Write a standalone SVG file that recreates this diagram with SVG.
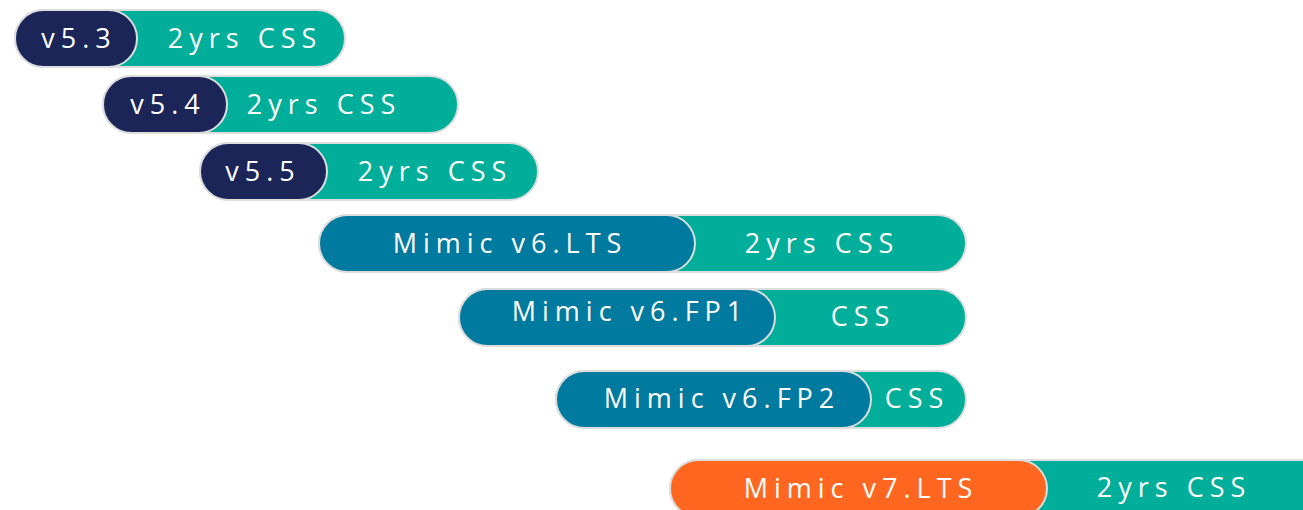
<svg xmlns="http://www.w3.org/2000/svg" width="1303" height="510" viewBox="0 0 1303 510">
<style>
.bg{fill:#fff}
.css{fill:#00AE9A;stroke:#DDDDDD;stroke-width:2}
.old{fill:#1B2558;stroke:#DDDDDD;stroke-width:2}
.v6{fill:#007A9E;stroke:#DDDDDD;stroke-width:2}
.v7{fill:#FF6720;stroke:#DDDDDD;stroke-width:2}
text{font-family:"Open Sans","DejaVu Sans",sans-serif;font-size:27px;fill:#fff;letter-spacing:6px;text-anchor:middle}
</style>
<rect class="bg" width="1303" height="510"/>
<g id="v53">
<rect class="css" x="15" y="10" width="330" height="57" rx="28.5"/>
<rect class="old" x="15" y="10" width="122" height="57" rx="28.5"/>
<text x="79" y="48">v5.3</text>
<text x="245" y="48">2yrs CSS</text>
</g>
<g id="v54">
<rect class="css" x="103" y="76" width="355" height="57" rx="28.5"/>
<rect class="old" x="103" y="76" width="124" height="57" rx="28.5"/>
<text x="168" y="114">v5.4</text>
<text x="324" y="114">2yrs CSS</text>
</g>
<g id="v55">
<rect class="css" x="200" y="143" width="338" height="57" rx="28.5"/>
<rect class="old" x="200" y="143" width="127" height="57" rx="28.5"/>
<text x="263" y="181">v5.5</text>
<text x="435" y="181">2yrs CSS</text>
</g>
<g id="v6lts">
<rect class="css" x="319" y="215" width="647" height="57" rx="28.5"/>
<rect class="v6" x="319" y="215" width="376" height="57" rx="28.5"/>
<text x="510" y="253">Mimic v6.LTS</text>
<text x="822" y="253">2yrs CSS</text>
</g>
<g id="v6fp1">
<rect class="css" x="459" y="289" width="507" height="57" rx="28.5"/>
<rect class="v6" x="459" y="289" width="316" height="57" rx="28.5"/>
<text x="630" y="321">Mimic v6.FP1</text>
<text x="863" y="326">CSS</text>
</g>
<g id="v6fp2">
<rect class="css" x="556" y="371" width="410" height="57" rx="28.5"/>
<rect class="v6" x="556" y="371" width="315" height="57" rx="28.5"/>
<text x="722" y="408">Mimic v6.FP2</text>
<text x="917" y="408">CSS</text>
</g>
<g id="v7lts">
<rect class="css" x="670" y="460" width="660" height="57" rx="28.5"/>
<rect class="v7" x="670" y="460" width="377" height="57" rx="28.5"/>
<text x="861" y="498">Mimic v7.LTS</text>
<text x="1174" y="497">2yrs CSS</text>
</g>
<g id="connectors"/>
</svg>
